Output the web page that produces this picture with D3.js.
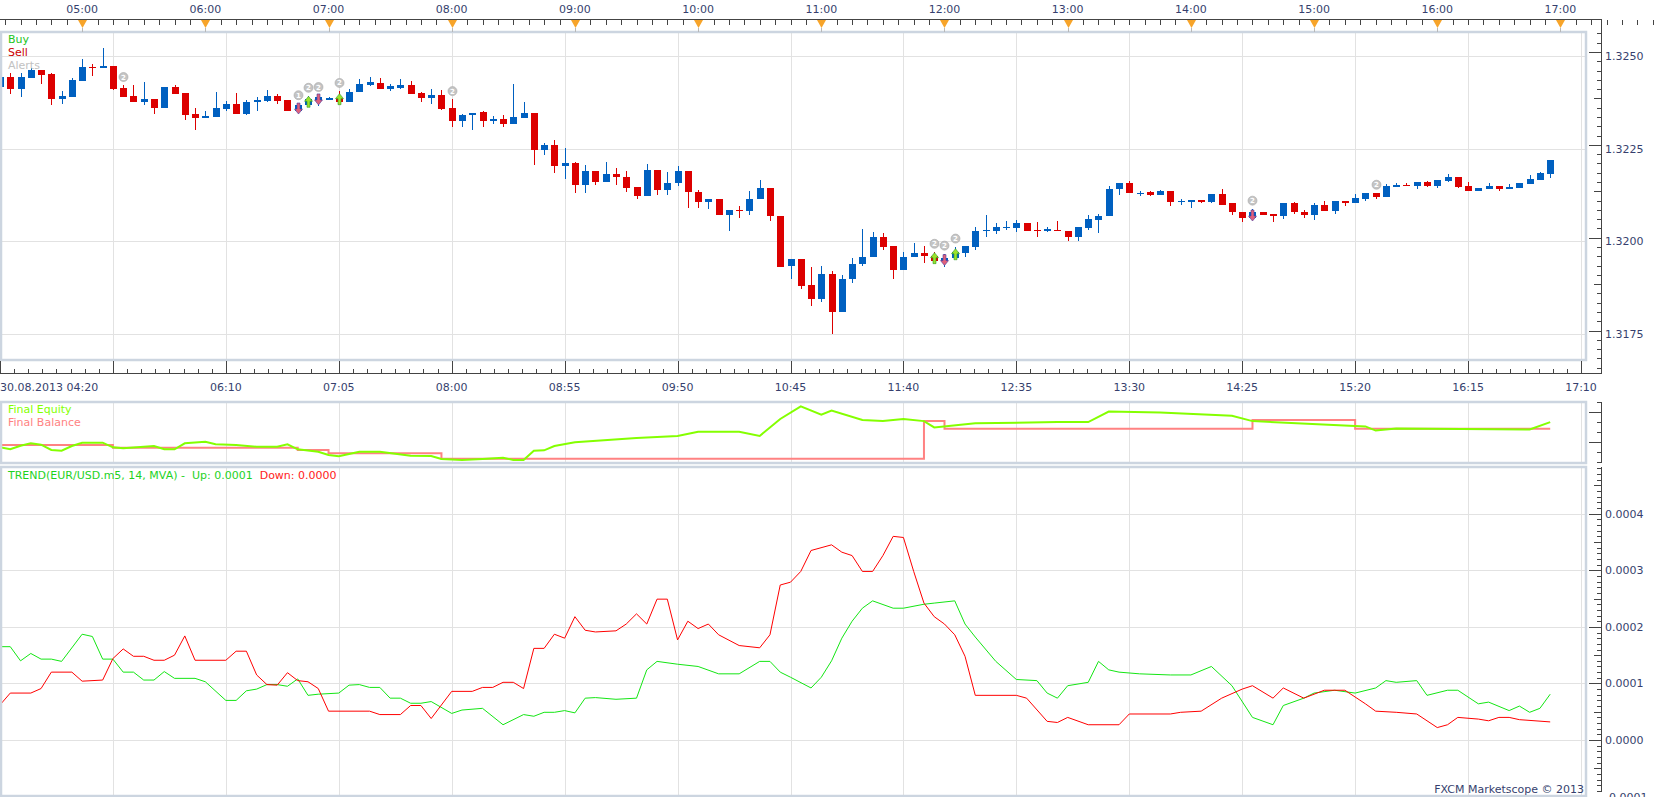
<!DOCTYPE html>
<html>
<head>
<meta charset="utf-8">
<script src="https://cdn.jsdelivr.net/npm/d3@7"></script>
<style>
  body { margin: 0; background: #fff; }
  svg { display: block; font-family: "DejaVu Sans", Verdana, sans-serif; }
</style>
</head>
<body>
<svg id="chart" width="1659" height="797"></svg>
<script>
// EUR/USD m5, 30.08.2013, first bar 04:20, one bar every 5 minutes
const firstBar = '30.08.2013 04:20'
const lastTick = '30.08.2013 17:10'

const opens = [1.32416,1.32443,1.32410,1.32441,1.32462,1.32451,1.32382,1.32390,1.32432,1.32470,
  1.32468,1.32472,1.32414,1.32392,1.32376,1.32384,1.32360,1.32416,1.32400,1.32343,
  1.32333,1.32336,1.32357,1.32370,1.32343,1.32374,1.32378,1.32392,1.32381,1.32350,
  1.32366,1.32379,1.32384,1.32387,1.32376,1.32401,1.32421,1.32427,1.32411,1.32413,
  1.32421,1.32400,1.32387,1.32395,1.32359,1.32325,1.32339,1.32347,1.32325,1.32330,
  1.32317,1.32333,1.32346,1.32247,1.32260,1.32202,1.32212,1.32153,1.32190,1.32159,
  1.32182,1.32174,1.32147,1.32121,1.32193,1.32137,1.32156,1.32190,1.32133,1.32107,
  1.32115,1.32072,1.32085,1.32083,1.32113,1.32144,1.32069,1.31933,1.31953,1.31883,
  1.31844,1.31913,1.31809,1.31898,1.31938,1.31957,1.32012,1.31988,1.31922,1.31957,
  1.31969,1.31961,1.31946,1.31956,1.31970,1.31986,1.32027,1.32029,1.32037,1.32037,
  1.32050,1.32031,1.32029,1.32031,1.32029,1.32011,1.32037,1.32058,1.32067,1.32140,
  1.32158,1.32128,1.32132,1.32126,1.32136,1.32107,1.32107,1.32112,1.32105,1.32128,
  1.32102,1.32080,1.32062,1.32080,1.32074,1.32067,1.32104,1.32080,1.32072,1.32098,
  1.32083,1.32109,1.32104,1.32115,1.32131,1.32120,1.32147,1.32152,1.32150,1.32160,
  1.32150,1.32163,1.32174,1.32150,1.32136,1.32142,1.32150,1.32142,1.32144,1.32155,
  1.32166,1.32182]
const highs = [1.32448,1.32454,1.32454,1.32468,1.32462,1.32454,1.32405,1.32441,1.32491,1.32477,
  1.32521,1.32472,1.32421,1.32421,1.32429,1.32384,1.32416,1.32421,1.32400,1.32360,
  1.32351,1.32402,1.32379,1.32399,1.32380,1.32390,1.32408,1.32397,1.32381,1.32372,
  1.32392,1.32394,1.32390,1.32405,1.32410,1.32438,1.32442,1.32439,1.32424,1.32438,
  1.32432,1.32403,1.32410,1.32408,1.32383,1.32344,1.32346,1.32352,1.32338,1.32341,
  1.32424,1.32376,1.32346,1.32265,1.32273,1.32252,1.32213,1.32206,1.32190,1.32214,
  1.32198,1.32190,1.32147,1.32209,1.32193,1.32187,1.32204,1.32190,1.32139,1.32115,
  1.32115,1.32085,1.32096,1.32136,1.32166,1.32144,1.32069,1.31953,1.31953,1.31931,
  1.31934,1.31921,1.31910,1.31956,1.32034,1.32026,1.32023,1.31988,1.31972,1.31996,
  1.31988,1.31972,1.31967,1.31986,1.31988,1.32039,1.32072,1.32050,1.32056,1.32058,
  1.32050,1.32053,1.32039,1.32056,1.32029,1.32039,1.32072,1.32074,1.32150,1.32158,
  1.32163,1.32136,1.32136,1.32139,1.32136,1.32113,1.32112,1.32112,1.32128,1.32142,
  1.32102,1.32080,1.32088,1.32080,1.32074,1.32104,1.32107,1.32085,1.32104,1.32109,
  1.32109,1.32109,1.32128,1.32131,1.32131,1.32155,1.32158,1.32158,1.32160,1.32163,
  1.32166,1.32182,1.32174,1.32160,1.32144,1.32158,1.32150,1.32155,1.32158,1.32179,
  1.32187,1.32220]
const lows = [1.32413,1.32398,1.32389,1.32441,1.32425,1.32368,1.32371,1.32390,1.32432,1.32446,
  1.32468,1.32408,1.32390,1.32376,1.32368,1.32343,1.32360,1.32397,1.32327,1.32301,
  1.32333,1.32336,1.32350,1.32343,1.32341,1.32351,1.32376,1.32370,1.32350,1.32350,
  1.32366,1.32365,1.32381,1.32376,1.32376,1.32401,1.32419,1.32411,1.32406,1.32409,
  1.32398,1.32374,1.32371,1.32355,1.32307,1.32307,1.32301,1.32309,1.32316,1.32307,
  1.32317,1.32331,1.32206,1.32233,1.32185,1.32167,1.32131,1.32129,1.32152,1.32159,
  1.32153,1.32133,1.32115,1.32121,1.32126,1.32126,1.32148,1.32089,1.32089,1.32086,
  1.32072,1.32029,1.32062,1.32070,1.32113,1.32056,1.31931,1.31898,1.31873,1.31825,
  1.31838,1.31750,1.31809,1.31887,1.31933,1.31957,1.31978,1.31898,1.31922,1.31957,
  1.31941,1.31945,1.31930,1.31953,1.31957,1.31978,1.32013,1.32021,1.32031,1.32026,
  1.32027,1.32012,1.32024,1.32027,1.32000,1.32000,1.32031,1.32022,1.32067,1.32125,
  1.32129,1.32122,1.32121,1.32126,1.32094,1.32097,1.32091,1.32102,1.32102,1.32099,
  1.32070,1.32051,1.32062,1.32072,1.32051,1.32059,1.32075,1.32062,1.32058,1.32081,
  1.32075,1.32094,1.32104,1.32109,1.32115,1.32120,1.32147,1.32150,1.32142,1.32147,
  1.32144,1.32160,1.32144,1.32136,1.32136,1.32142,1.32136,1.32142,1.32144,1.32155,
  1.32166,1.32171]
const closes = [1.32443,1.32410,1.32443,1.32461,1.32449,1.32383,1.32392,1.32435,1.32470,1.32468,
  1.32472,1.32411,1.32390,1.32376,1.32384,1.32360,1.32416,1.32397,1.32341,1.32333,
  1.32338,1.32360,1.32370,1.32343,1.32376,1.32380,1.32392,1.32379,1.32350,1.32368,
  1.32383,1.32388,1.32386,1.32376,1.32403,1.32424,1.32428,1.32411,1.32417,1.32421,
  1.32398,1.32387,1.32395,1.32357,1.32325,1.32341,1.32346,1.32325,1.32330,1.32317,
  1.32335,1.32346,1.32247,1.32260,1.32202,1.32212,1.32153,1.32190,1.32159,1.32182,
  1.32172,1.32145,1.32121,1.32193,1.32137,1.32158,1.32190,1.32132,1.32107,1.32115,
  1.32072,1.32085,1.32082,1.32115,1.32144,1.32067,1.31931,1.31953,1.31881,1.31844,
  1.31913,1.31809,1.31899,1.31940,1.31959,1.32012,1.31986,1.31922,1.31959,1.31969,
  1.31960,1.31946,1.31956,1.31972,1.31988,1.32029,1.32031,1.32039,1.32039,1.32050,
  1.32029,1.32029,1.32032,1.32027,1.32011,1.32039,1.32061,1.32069,1.32142,1.32158,
  1.32129,1.32131,1.32126,1.32136,1.32107,1.32109,1.32112,1.32105,1.32128,1.32099,
  1.32078,1.32062,1.32080,1.32072,1.32067,1.32104,1.32078,1.32072,1.32098,1.32083,
  1.32109,1.32104,1.32117,1.32131,1.32120,1.32150,1.32152,1.32150,1.32160,1.32150,
  1.32166,1.32174,1.32147,1.32136,1.32144,1.32150,1.32142,1.32147,1.32158,1.32169,
  1.32185,1.32220]

// alerts drawn above some bars: [bar, label]
const alerts = [[12,'2'],[29,'1'],[30,'2'],[31,'2'],[33,'2'],[44,'2'],[91,'2'],[92,'2'],[93,'2'],[122,'2'],[134,'2']]
// trade arrows: [bar, 'buy'|'sell']
const trades = [[29,'sell'],[30,'buy'],[31,'sell'],[33,'buy'],[91,'buy'],[92,'sell'],[93,'buy'],[122,'sell']]

// Final Equity / Final Balance panel: [bar, value]
const equity = [[0,49114],[1,49074],[2,49146],[3,49194],[4,49166],[5,49060],[6,49046],[7,49140],[8,49206],
  [10,49206],[11,49114],[12,49094],[15,49140],[16,49074],[17,49074],[18,49194],[20,49226],[21,49174],
  [23,49160],[25,49126],[27,49126],[28,49174],[29,49074],[31,49026],[32,48960],[33,48934],[34,48980],
  [35,49026],[37,49026],[40,48946],[42,48940],[43,48880],[45,48860],[47,48880],[49,48906],[50,48860],
  [51,48860],[52,49046],[53,49054],[54,49140],[56,49216],[62,49300],[66,49342],[68,49426],[72,49426],
  [74,49342],[76,49680],[78,49934],[80,49766],[81,49850],[84,49660],[86,49638],[88,49680],[90,49638],
  [91,49512],[95,49596],[103,49618],[106,49618],[108,49828],[113,49808],[120,49744],[122,49638],
  [133,49532],[134,49448],[136,49490],[149,49470],[151,49618]]
const balance = [[0,49160],[11,49106],[29,49060],[32,48994],[43,48886],[90,49640],[92,49486],
  [122,49660],[132,49486],[151,49486]]

// TREND(EUR/USD.m5, 14, MVA): [bar, value]
const trendUp = [[0,0.000165],[1,0.000165],[2,0.000140],[3,0.000153],[4,0.000143],[5,0.000143],[6,0.000139],
  [8,0.000187],[9,0.000183],[10,0.000143],[11,0.000143],[12,0.000120],[13,0.000120],[14,0.000106],
  [15,0.000106],[16,0.000121],[17,0.000109],[19,0.000109],[20,0.000103],[22,0.000070],[23,0.000070],
  [24,0.000087],[25,0.000090],[26,0.000098],[27,0.000098],[28,0.000095],[29,0.000108],[30,0.000079],
  [31,0.000081],[33,0.000083],[34,0.000097],[35,0.000098],[36,0.000093],[37,0.000093],[38,0.000074],
  [39,0.000074],[40,0.000065],[41,0.000065],[42,0.000068],[44,0.000047],[45,0.000053],[47,0.000056],
  [49,0.000027],[51,0.000045],[52,0.000042],[53,0.000049],[54,0.000049],[55,0.000052],[56,0.000048],
  [57,0.000074],[58,0.000075],[60,0.000072],[62,0.000074],[63,0.000124],[64,0.000139],[66,0.000134],
  [68,0.000130],[70,0.000117],[72,0.000117],[74,0.000139],[75,0.000139],[76,0.000120],[77,0.000111],
  [79,0.000092],[80,0.000111],[81,0.000140],[82,0.000180],[83,0.000210],[84,0.000233],[85,0.000246],
  [87,0.000233],[88,0.000233],[90,0.000240],[91,0.000242],[93,0.000246],[94,0.000205],[95,0.000182],
  [97,0.000139],[99,0.000107],[101,0.000105],[102,0.000083],[103,0.000074],[104,0.000096],[106,0.000102],
  [107,0.000139],[108,0.000124],[109,0.000120],[111,0.000117],[114,0.000115],[116,0.000115],[118,0.000130],
  [120,0.000096],[122,0.000040],[124,0.000027],[125,0.000061],[127,0.000074],[128,0.000083],[130,0.000088],
  [132,0.000083],[134,0.000092],[135,0.000105],[136,0.000102],[138,0.000105],[139,0.000079],[141,0.000088],
  [142,0.000088],[144,0.000064],[145,0.000067],[147,0.000052],[148,0.000060],[149,0.000049],[150,0.000056],
  [151,0.000081]]
const trendDown = [[0,0.000062],[1,0.000083],[3,0.000083],[4,0.000091],[5,0.000120],[7,0.000120],[8,0.000104],
  [10,0.000106],[11,0.000144],[12,0.000161],[13,0.000148],[14,0.000148],[15,0.000141],[16,0.000141],
  [17,0.000150],[18,0.000184],[19,0.000141],[22,0.000141],[23,0.000157],[24,0.000157],[25,0.000115],
  [26,0.000098],[27,0.000097],[28,0.000119],[29,0.000105],[30,0.000103],[31,0.000091],[32,0.000051],
  [36,0.000051],[37,0.000045],[39,0.000045],[40,0.000061],[41,0.000061],[42,0.000038],[44,0.000086],
  [46,0.000086],[47,0.000093],[48,0.000093],[49,0.000102],[50,0.000102],[51,0.000091],[52,0.000162],
  [53,0.000162],[54,0.000187],[55,0.000180],[56,0.000218],[57,0.000194],[58,0.000191],[60,0.000193],
  [61,0.000205],[62,0.000223],[63,0.000205],[64,0.000249],[65,0.000249],[66,0.000177],[67,0.000210],
  [68,0.000197],[69,0.000205],[70,0.000186],[72,0.000167],[74,0.000163],[75,0.000186],[76,0.000274],
  [77,0.000279],[78,0.000298],[79,0.000335],[81,0.000345],[82,0.000332],[83,0.000326],[84,0.000298],
  [85,0.000298],[86,0.000326],[87,0.000360],[88,0.000358],[89,0.000298],[90,0.000242],[91,0.000218],
  [92,0.000205],[93,0.000186],[94,0.000148],[95,0.000079],[99,0.000079],[100,0.000074],[102,0.000033],
  [103,0.000031],[104,0.000040],[106,0.000027],[109,0.000027],[110,0.000046],[114,0.000046],[115,0.000049],
  [117,0.000051],[119,0.000074],[121,0.000090],[122,0.000096],[124,0.000074],[125,0.000092],[127,0.000074],
  [129,0.000088],[131,0.000088],[133,0.000064],[134,0.000051],[136,0.000049],[138,0.000046],[140,0.000022],
  [141,0.000027],[142,0.000040],[144,0.000037],[145,0.000034],[146,0.000040],[147,0.000040],[148,0.000036],
  [151,0.000032]]

const priceTicks = [1.3175, 1.3200, 1.3225, 1.3250]
const trendTicks = [-0.0001, 0.0000, 0.0001, 0.0002, 0.0003, 0.0004]

const axisX = 1601
const frameRight = 1586
const pMain = { top: 32, bottom: 360 }
const pEq = { top: 402, bottom: 463 }
const pTrend = { top: 467, bottom: 796 }

const textColor = '#363f6e'
const gridColor = '#e2e2e2'
const frameColor = '#ccd5e0'
const upColor = '#0060c0'
const downColor = '#dc0000'

const parseT = d3.timeParse('%d.%m.%Y %H:%M')
const t0 = parseT(firstBar)
const times = opens.map((_, i) => d3.timeMinute.offset(t0, 5 * i))
const bars = times.map((t, i) => ({ t, o: opens[i], h: highs[i], l: lows[i], c: closes[i] }))

const x = d3.scaleTime().domain([t0, parseT(lastTick)]).range([0, 1581])
const yPrice = d3.scaleLinear().domain([1.31686, 1.32561]).range([358, 33])
const yEq = d3.scaleLinear().domain([48800, 50040]).range([463, 401])
const yTrend = d3.scaleLinear().domain([-0.0000954, 0.0004808]).range([794, 468])

const svg = d3.select('#chart')
const defs = svg.append('defs')
;[['clipMain', pMain], ['clipEq', pEq], ['clipTrend', pTrend]].forEach(([id, p]) => {
  defs.append('clipPath').attr('id', id).append('rect')
    .attr('x', 0).attr('y', p.top).attr('width', frameRight).attr('height', p.bottom - p.top)
})

// vertical grid every 55 minutes, shared by the three panels
const gridTimes = d3.range(1, 15).map(k => d3.timeMinute.offset(t0, 55 * k))
const grid = svg.append('g').attr('shape-rendering', 'crispEdges')
;[pMain, pEq, pTrend].forEach(p => {
  grid.selectAll(null).data(gridTimes).join('line')
    .attr('x1', d => Math.round(x(d)) + 0.5).attr('x2', d => Math.round(x(d)) + 0.5)
    .attr('y1', p.top).attr('y2', p.bottom)
    .attr('stroke', gridColor)
})
grid.selectAll(null).data(priceTicks).join('line')
  .attr('x1', 0).attr('x2', frameRight)
  .attr('y1', d => Math.round(yPrice(d)) + 0.5).attr('y2', d => Math.round(yPrice(d)) + 0.5)
  .attr('stroke', gridColor)
grid.selectAll(null).data(trendTicks.filter(d => d >= 0)).join('line')
  .attr('x1', 0).attr('x2', frameRight)
  .attr('y1', d => Math.round(yTrend(d)) + 0.5).attr('y2', d => Math.round(yTrend(d)) + 0.5)
  .attr('stroke', gridColor)

// candles
const candles = svg.append('g').attr('clip-path', 'url(#clipMain)').attr('shape-rendering', 'crispEdges')
const cx = d => Math.round(x(d.t))
candles.selectAll('.wick').data(bars).join('line')
  .attr('class', 'wick')
  .attr('x1', d => cx(d) + 0.5).attr('x2', d => cx(d) + 0.5)
  .attr('y1', d => yPrice(d.h)).attr('y2', d => yPrice(d.l))
  .attr('stroke', d => d.c >= d.o ? upColor : downColor)
  .attr('stroke-width', 1)
candles.selectAll('.body').data(bars).join('rect')
  .attr('class', 'body')
  .attr('x', d => cx(d) - 3).attr('width', 7)
  .attr('y', d => yPrice(Math.max(d.o, d.c)))
  .attr('height', d => Math.max(1.5, Math.abs(yPrice(d.o) - yPrice(d.c))))
  .attr('fill', d => d.c >= d.o ? upColor : downColor)

// trade arrows and alerts
const marks = svg.append('g').attr('clip-path', 'url(#clipMain)')
marks.selectAll('.trade').data(trades).join('path')
  .attr('class', 'trade')
  .attr('transform', d => {
    const b = bars[d[0]]
    return `translate(${cx(b) + 0.5},${yPrice((b.o + b.c) / 2)})`
  })
  .attr('d', d => d[1] === 'buy'
    ? 'M0,-6 L4,-1 L1.5,-1 L1.5,5 L-1.5,5 L-1.5,-1 L-4,-1 Z'
    : 'M0,6 L4,1 L1.5,1 L1.5,-5 L-1.5,-5 L-1.5,1 L-4,1 Z')
  .attr('fill', d => d[1] === 'buy' ? '#9be22a' : '#e0607a')
  .attr('stroke', d => d[1] === 'buy' ? '#2a9a2a' : '#4a3aa0')
  .attr('stroke-width', 0.6)
const alertG = marks.selectAll('.alert').data(alerts).join('g')
  .attr('class', 'alert')
  .attr('transform', d => `translate(${cx(bars[d[0]]) + 0.5},${yPrice(bars[d[0]].h) - 8})`)
alertG.append('circle').attr('r', 4.5).attr('fill', '#c4c4c4').attr('stroke', '#a8a8a8').attr('stroke-width', 0.6)
alertG.append('text').text(d => d[1])
  .attr('text-anchor', 'middle').attr('y', 2.5)
  .attr('font-size', 7).attr('font-weight', 'bold').attr('fill', '#fff')

// equity / balance
const eqG = svg.append('g').attr('clip-path', 'url(#clipEq)')
eqG.append('path').datum(balance)
  .attr('d', d3.line().x(d => x(times[d[0]])).y(d => yEq(d[1])).curve(d3.curveStepAfter))
  .attr('fill', 'none').attr('stroke', '#ff8282').attr('stroke-width', 2)
eqG.append('path').datum(equity)
  .attr('d', d3.line().x(d => x(times[d[0]])).y(d => yEq(d[1])))
  .attr('fill', 'none').attr('stroke', '#84ff00').attr('stroke-width', 2)

// trend lines
const trG = svg.append('g').attr('clip-path', 'url(#clipTrend)')
const trendLine = d3.line().x(d => x(times[d[0]])).y(d => yTrend(d[1]))
trG.append('path').datum(trendUp).attr('d', trendLine)
  .attr('fill', 'none').attr('stroke', '#14e614').attr('stroke-width', 1)
trG.append('path').datum(trendDown).attr('d', trendLine)
  .attr('fill', 'none').attr('stroke', '#ff0000').attr('stroke-width', 1)

// panel frames
;[pMain, pEq, pTrend].forEach(p => {
  svg.append('rect')
    .attr('x', 1).attr('y', p.top).attr('width', frameRight - 1).attr('height', p.bottom - p.top)
    .attr('fill', 'none').attr('stroke', frameColor).attr('stroke-width', 2.5)
})

// axes
const ax = svg.append('g').attr('shape-rendering', 'crispEdges').attr('stroke', '#444')
const hour4 = d3.timeHour.floor(t0)
const topMinor = d3.range(0, 14 * 8 + 1).map(k => new Date(+hour4 + k * 450000)).filter(d => x(d) >= 0)
const hours = d3.timeHour.range(d3.timeHour.ceil(t0), d3.timeMinute.offset(parseT(lastTick), 1))
ax.append('line').attr('x1', 0).attr('x2', axisX + 0.5).attr('y1', 19.5).attr('y2', 19.5)
ax.selectAll(null).data(topMinor).join('line')
  .attr('x1', d => Math.round(x(d)) + 0.5).attr('x2', d => Math.round(x(d)) + 0.5)
  .attr('y1', 19.5).attr('y2', d => d.getMinutes() === 0 ? 27 : 24.5)
svg.append('g').selectAll(null).data(hours).join('path')
  .attr('transform', d => `translate(${Math.round(x(d)) + 0.5},20)`)
  .attr('d', 'M-4.5,0 L4.5,0 L0,8 Z')
  .attr('fill', '#f7a42a')
svg.append('g').selectAll(null).data(hours).join('line')
  .attr('x1', d => Math.round(x(d)) + 0.5).attr('x2', d => Math.round(x(d)) + 0.5)
  .attr('y1', 28).attr('y2', 32).attr('stroke', '#b8b8b8')
svg.append('g').selectAll(null).data(hours).join('text')
  .attr('x', d => x(d)).attr('y', 13)
  .attr('text-anchor', 'middle').attr('font-size', 11).attr('fill', textColor)
  .text(d3.timeFormat('%H:%M'))

// bottom time axis (the 05:15 label is hidden behind the date label)
const botMinor = d3.range(0, 14 * 8 + 1).map(k => new Date(+t0 + k * 55 * 60000 / 8))
const botMajor = d3.range(0, 15).map(k => d3.timeMinute.offset(t0, 55 * k))
ax.append('line').attr('x1', 0).attr('x2', axisX + 0.5).attr('y1', 373.5).attr('y2', 373.5)
ax.selectAll(null).data(botMinor).join('line')
  .attr('x1', d => Math.round(x(d)) + 0.5).attr('x2', d => Math.round(x(d)) + 0.5)
  .attr('y1', 373.5).attr('y2', 368.5)
ax.selectAll(null).data(botMajor).join('line')
  .attr('x1', d => Math.round(x(d)) + 0.5).attr('x2', d => Math.round(x(d)) + 0.5)
  .attr('y1', 373.5).attr('y2', 360.5)
svg.append('g').selectAll(null).data(botMajor.filter((d, i) => i !== 1)).join('text')
  .attr('x', (d, i) => i === 0 ? 0 : x(d)).attr('y', 391)
  .attr('text-anchor', (d, i) => i === 0 ? 'start' : 'middle')
  .attr('font-size', 11).attr('fill', textColor)
  .text((d, i) => i === 0 ? firstBar : d3.timeFormat('%H:%M')(d))

// right axes
function rightTicks(vals, scale, len) {
  ax.selectAll(null).data(vals).join('line')
    .attr('x1', d => axisX + 0.5 - len(d)).attr('x2', axisX + 0.5)
    .attr('y1', d => Math.round(scale(d)) + 0.5).attr('y2', d => Math.round(scale(d)) + 0.5)
}
ax.append('line').attr('x1', axisX + 0.5).attr('x2', axisX + 0.5).attr('y1', 19).attr('y2', 373.5)
const pMinor = d3.range(0, 37).map(k => +(1.3166 + k * 0.00025).toFixed(5)).filter(d => yPrice(d) > 20 && yPrice(d) < 373)
rightTicks(pMinor, yPrice, d => {
  const k = Math.round(d / 0.00025)
  return k % 10 === 0 ? 13 : (k % 5 === 0 ? 8 : 5)
})
svg.append('g').selectAll(null).data(priceTicks).join('text')
  .attr('x', axisX + 4).attr('y', d => yPrice(d) + 4)
  .attr('font-size', 11).attr('fill', textColor)
  .text(d => d.toFixed(4))

ax.append('line').attr('x1', axisX + 0.5).attr('x2', axisX + 0.5).attr('y1', pEq.top).attr('y2', pEq.bottom)
const eqTicks = d3.range(48826, 50100, 200)
rightTicks(eqTicks, yEq, d => ((d - 49226) % 600 === 0 ? 13 : 5))

ax.append('line').attr('x1', axisX + 0.5).attr('x2', axisX + 0.5).attr('y1', pTrend.top).attr('y2', 792)
const tMinor = d3.range(-10, 49).map(k => k / 100000).filter(d => yTrend(d) > pTrend.top && yTrend(d) < 792)
rightTicks(tMinor, yTrend, d => {
  const k = Math.round(d * 100000)
  return k % 10 === 0 ? 13 : (k % 5 === 0 ? 8 : 5)
})
svg.append('g').selectAll(null).data(trendTicks).join('text')
  .attr('x', axisX + 4).attr('y', d => yTrend(d) + 4)
  .attr('font-size', 11).attr('fill', textColor)
  .text(d => d.toFixed(4))

// legends
const leg = svg.append('g').attr('font-size', 11)
leg.append('text').attr('x', 8).attr('y', 43).attr('fill', '#22c422').text('Buy')
leg.append('text').attr('x', 8).attr('y', 56).attr('fill', '#cc0000').text('Sell')
leg.append('text').attr('x', 8).attr('y', 69).attr('fill', '#c2c2c2').text('Alerts')
leg.append('text').attr('x', 8).attr('y', 413).attr('fill', '#84ff00').text('Final Equity')
leg.append('text').attr('x', 8).attr('y', 426).attr('fill', '#ff8282').text('Final Balance')
const tl = leg.append('text').attr('x', 8).attr('y', 479).attr('xml:space', 'preserve')
tl.append('tspan').attr('fill', '#1ed21e')
  .text('TREND(EUR/USD.m5, 14, MVA) -  Up: ' + trendUp[trendUp.length - 1][1].toFixed(4) + '  ')
tl.append('tspan').attr('fill', '#ff1a1a')
  .text('Down: ' + trendDown[trendDown.length - 1][1].toFixed(4))

svg.append('text').attr('x', 1584).attr('y', 793).attr('text-anchor', 'end')
  .attr('font-size', 11).attr('fill', textColor).text('FXCM Marketscope © 2013')
</script>
</body>
</html>
